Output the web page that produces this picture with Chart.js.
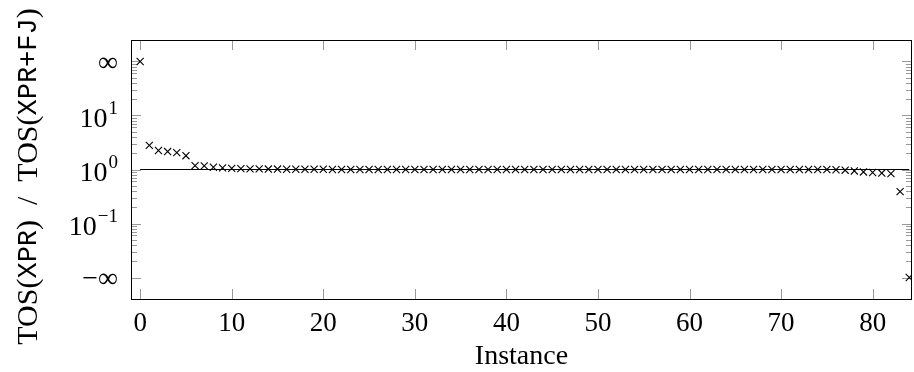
<!DOCTYPE html>
<html>
<head>
<meta charset="utf-8">
<script src="https://cdn.jsdelivr.net/npm/chart.js@4.4.1/dist/chart.umd.min.js"></script>
<style>
  html, body { margin: 0; padding: 0; background: #fff; }
  #wrap { width: 914px; height: 372px; position: relative; }
</style>
</head>
<body>
<div id="wrap"><canvas id="ratioChart"></canvas></div>
<script>
// TOS ratio per instance (100 stands for +inf, 0.01 for -inf)
const ratios = [
    100, 2.8, 2.25, 2.15, 2.05, 1.8, 1.18, 1.17, 1.1, 1.07,
    1.05, 1.04, 1.03, 1.03, 1.02, 1.02, 1.01, 1.01, 1.01, 1.01,
    1.01, 1.0, 1.0, 1.0, 1.0, 1.0, 1.0, 1.0, 1.0, 1.0,
    1.0, 1.0, 1.0, 1.0, 1.0, 1.0, 1.0, 1.0, 1.0, 1.0,
    1.0, 1.0, 1.0, 1.0, 1.0, 1.0, 1.0, 1.0, 1.0, 1.0,
    1.0, 1.0, 1.0, 1.0, 1.0, 1.0, 1.0, 1.0, 1.0, 1.0,
    1.0, 1.0, 1.0, 1.0, 1.0, 1.0, 1.0, 1.0, 1.0, 1.0,
    1.0, 1.0, 1.0, 1.0, 1.0, 1.0, 0.99, 0.97, 0.94, 0.9,
    0.88, 0.86, 0.84, 0.39, 0.01
];
const refLineX = [0, 84];
const refLineY = [1, 1];

const xTicks = [0, 10, 20, 30, 40, 50, 60, 70, 80];
const yTicks = [0.01, 0.1, 1, 10, 100];
const yTickBase = ['\u2212\u221E', '10', '10', '10', '\u221E'];
const yTickSup = ['', '\u22121', '0', '1', ''];
const yMinorTicks = [
    0.02, 0.03, 0.04, 0.05, 0.06, 0.07, 0.08, 0.09,
    0.2, 0.3, 0.4, 0.5, 0.6, 0.7, 0.8, 0.9,
    2, 3, 4, 5, 6, 7, 8, 9,
    20, 30, 40, 50, 60, 70, 80, 90
];
const yTitleParts = ['TOS(', 'XPR', ')  /  TOS(', 'XPR+FJ', ')'];
const yTitleMono = [false, true, false, true, false];

const serif = '"Liberation Serif", "DejaVu Serif", serif';
const mono = '"Liberation Mono", "DejaVu Sans Mono", monospace';

// box, inward ticks, y labels and y title in pgfplots style
const axisBox = {
    id: 'axisBox',
    beforeDatasetsDraw(chart) {
        const ctx = chart.ctx;
        const a = chart.chartArea;
        const xs = chart.scales.x;
        const ys = chart.scales.y;
        ctx.save();
        ctx.lineWidth = 1;
        ctx.strokeStyle = '#999';
        ctx.beginPath();
        xTicks.forEach(v => {
            const px = Math.round(xs.getPixelForValue(v)) + 0.5;
            ctx.moveTo(px, a.bottom); ctx.lineTo(px, a.bottom - 10);
            ctx.moveTo(px, a.top); ctx.lineTo(px, a.top + 10);
        });
        yTicks.forEach(v => {
            const py = Math.round(ys.getPixelForValue(v)) + 0.5;
            ctx.moveTo(a.left, py); ctx.lineTo(a.left + 10, py);
            ctx.moveTo(a.right, py); ctx.lineTo(a.right - 10, py);
        });
        yMinorTicks.forEach(v => {
            const py = Math.round(ys.getPixelForValue(v)) + 0.5;
            ctx.moveTo(a.left, py); ctx.lineTo(a.left + 6, py);
            ctx.moveTo(a.right, py); ctx.lineTo(a.right - 6, py);
        });
        ctx.stroke();

        ctx.strokeStyle = '#000';
        ctx.strokeRect(Math.round(a.left) + 0.5, Math.round(a.top) + 0.5,
            Math.round(a.right - a.left) - 1, Math.round(a.bottom - a.top));

        // y tick labels
        ctx.fillStyle = '#000';
        ctx.textBaseline = 'middle';
        ctx.textAlign = 'left';
        yTicks.forEach((v, i) => {
            const py = ys.getPixelForValue(v);
            ctx.font = '28px ' + serif;
            const wb = ctx.measureText(yTickBase[i]).width;
            ctx.font = '19px ' + serif;
            const ws = yTickSup[i] ? ctx.measureText(yTickSup[i]).width + 1 : 0;
            const x0 = a.left - 13 - wb - ws;
            const shift = yTickSup[i] ? 4 : 2;
            ctx.font = '28px ' + serif;
            ctx.fillText(yTickBase[i], x0, py + shift);
            if (yTickSup[i]) {
                ctx.font = '19px ' + serif;
                ctx.fillText(yTickSup[i], x0 + wb + 1, py - 6);
            }
        });

        // y title, mixed roman / typewriter
        ctx.save();
        ctx.translate(29, (a.top + a.bottom) / 2 + 7);
        ctx.rotate(-Math.PI / 2);
        let total = 0;
        const widths = yTitleParts.map((t, i) => {
            ctx.font = yTitleMono[i] ? '27px ' + mono : '30px ' + serif;
            const w = ctx.measureText(t).width;
            total += w;
            return w;
        });
        let cx = -total / 2;
        yTitleParts.forEach((t, i) => {
            ctx.font = yTitleMono[i] ? '27px ' + mono : '30px ' + serif;
            ctx.fillText(t, cx, 0);
            cx += widths[i];
        });
        ctx.restore();
        ctx.restore();
    }
};

const chart = new Chart(document.getElementById('ratioChart'), {
    type: 'scatter',
    data: {
        datasets: [{
            type: 'line',
            data: refLineX.map((x, i) => ({ x: x, y: refLineY[i] })),
            borderColor: '#000',
            borderWidth: 1.2,
            pointRadius: 0,
            fill: false
        }, {
            data: ratios.map((v, i) => ({ x: i, y: v })),
            pointStyle: 'crossRot',
            pointRadius: 5,
            pointBorderWidth: 1.1,
            borderColor: '#000',
            backgroundColor: '#000'
        }]
    },
    options: {
        responsive: true,
        maintainAspectRatio: false,
        animation: false,
        layout: {
            autoPadding: false,
            padding: { left: 0, right: 2, top: 40, bottom: 0 }
        },
        plugins: {
            legend: { display: false },
            tooltip: { enabled: false }
        },
        scales: {
            x: {
                type: 'linear',
                min: -1,
                max: 84.3,
                grid: { display: false, drawTicks: false },
                border: { display: false },
                afterBuildTicks: scale => {
                    scale.ticks = xTicks.map(v => ({ value: v }));
                },
                afterFit: scale => { scale.height = 73; },
                ticks: {
                    color: '#000',
                    padding: 9,
                    maxRotation: 0,
                    font: { family: serif, size: 27 }
                },
                title: {
                    display: true,
                    text: 'Instance',
                    color: '#000',
                    padding: 0,
                    font: { family: serif, size: 28, lineHeight: 1.1 }
                }
            },
            y: {
                type: 'logarithmic',
                min: 0.004,
                max: 250,
                grid: { display: false, drawTicks: false },
                border: { display: false },
                afterBuildTicks: scale => {
                    scale.ticks = yTicks.map(v => ({ value: v }));
                },
                afterFit: scale => { scale.width = 131; },
                ticks: { display: false }
            }
        }
    },
    plugins: [axisBox]
});
</script>
</body>
</html>
